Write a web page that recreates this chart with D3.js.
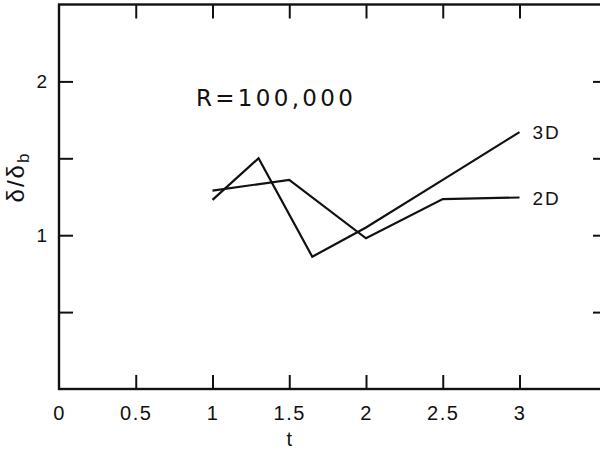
<!DOCTYPE html>
<html>
<head>
<meta charset="utf-8">
<script src="https://cdn.jsdelivr.net/npm/d3@7"></script>
<style>
  body { margin: 0; background: #fff; }
  text { font-family: "Liberation Sans", Arial, sans-serif; fill: #111; }
</style>
</head>
<body>
<div id="chart"></div>
<script>
// values
var t3D   = [1, 1.3, 1.65, 2, 2.5, 3],
    v3D   = [1.23, 1.5, 0.86, 1.05, 1.36, 1.67],
    t2D   = [1, 1.5, 2, 2.5, 3],
    v2D   = [1.29, 1.36, 0.98, 1.235, 1.245];

var xTicks      = [0, 0.5, 1, 1.5, 2, 2.5, 3],
    xTickLabels = ['0', '0.5', '1', '1.5', '2', '2.5', '3'],
    yTicks      = [0.5, 1, 1.5, 2],
    yTickLabels = ['', '1', '', '2'];

var width = 600, height = 451;

var x = d3.scaleLinear().domain([0, 3.57]).range([59, 607]),
    y = d3.scaleLinear().domain([0, 2.5]).range([389, 4.5]);

var svg = d3.select('#chart')
  .append('svg')
  .attr('width', width)
  .attr('height', height);

var tickLen = 14;

// frame
svg.append('rect')
  .attr('x', x(0)).attr('y', y(2.5))
  .attr('width', x(3.57) - x(0))
  .attr('height', y(0) - y(2.5))
  .attr('fill', 'none')
  .attr('stroke', '#111')
  .attr('stroke-width', 2.4);

// bottom axis
var bottom = d3.axisBottom(x)
  .tickValues(xTicks)
  .tickSize(-tickLen)
  .tickPadding(12)
  .tickFormat(function(d, i) { return xTickLabels[i]; });

var gb = svg.append('g')
  .attr('transform', 'translate(0,' + y(0) + ')')
  .call(bottom);
gb.select('.domain').remove();
gb.selectAll('line').attr('stroke', '#111').attr('stroke-width', 2);
gb.selectAll('text').style('font-size', '20px').attr('dy', '0.95em').style('letter-spacing', '1.5px');
gb.selectAll('.tick').filter(function(d) { return d === 0; }).select('line').remove();

// top axis (ticks only)
var gt = svg.append('g')
  .attr('transform', 'translate(0,' + y(2.5) + ')')
  .call(d3.axisTop(x).tickValues(xTicks.slice(1)).tickSize(-tickLen).tickFormat(''));
gt.select('.domain').remove();
gt.selectAll('line').attr('stroke', '#111').attr('stroke-width', 2);

// left axis
var left = d3.axisLeft(y)
  .tickValues(yTicks)
  .tickSize(-tickLen)
  .tickPadding(12)
  .tickFormat(function(d, i) { return yTickLabels[i]; });

var gl = svg.append('g')
  .attr('transform', 'translate(' + x(0) + ',0)')
  .call(left);
gl.select('.domain').remove();
gl.selectAll('line').attr('stroke', '#111').attr('stroke-width', 2);
gl.selectAll('text').style('font-size', '19px');

// right axis (ticks only)
var gr = svg.append('g')
  .attr('transform', 'translate(' + x(3.57) + ',0)')
  .call(d3.axisRight(y).tickValues(yTicks).tickSize(-tickLen).tickFormat(''));
gr.select('.domain').remove();
gr.selectAll('line').attr('stroke', '#111').attr('stroke-width', 2);

// lines
var line = d3.line()
  .x(function(d) { return x(d[0]); })
  .y(function(d) { return y(d[1]); });

var series = [
  { name: '3D', pts: d3.zip(t3D, v3D) },
  { name: '2D', pts: d3.zip(t2D, v2D) }
];

svg.selectAll('path.series')
  .data(series)
  .enter().append('path')
  .attr('class', 'series')
  .attr('d', function(d) { return line(d.pts); })
  .attr('fill', 'none')
  .attr('stroke', '#111')
  .attr('stroke-width', 2.2)
  .attr('stroke-linejoin', 'miter');

svg.selectAll('text.series-label')
  .data(series)
  .enter().append('text')
  .attr('class', 'series-label')
  .attr('x', function(d) { return x(d.pts[d.pts.length - 1][0]) + 13; })
  .attr('y', function(d) { return y(d.pts[d.pts.length - 1][1]) + 7; })
  .style('font-size', '19px')
  .style('letter-spacing', '2px')
  .text(function(d) { return d.name; });

// annotation
svg.append('text')
  .attr('x', 196).attr('y', 106)
  .style('font-family', '"DejaVu Sans", sans-serif')
  .style('font-size', '23px')
  .style('letter-spacing', '3.3px')
  .text('R=100,000');

// axis titles
svg.append('text')
  .attr('x', x(1.5)).attr('y', 446)
  .attr('text-anchor', 'middle')
  .style('font-size', '20px')
  .text('t');

var yl = svg.append('text')
  .attr('transform', 'translate(24,177) rotate(-90)')
  .attr('text-anchor', 'middle')
  .style('font-size', '24px')
  .style('letter-spacing', '2px');
yl.append('tspan').text('δ/δ');
yl.append('tspan').attr('dy', 5).style('font-size', '17px').text('b');
</script>
</body>
</html>
